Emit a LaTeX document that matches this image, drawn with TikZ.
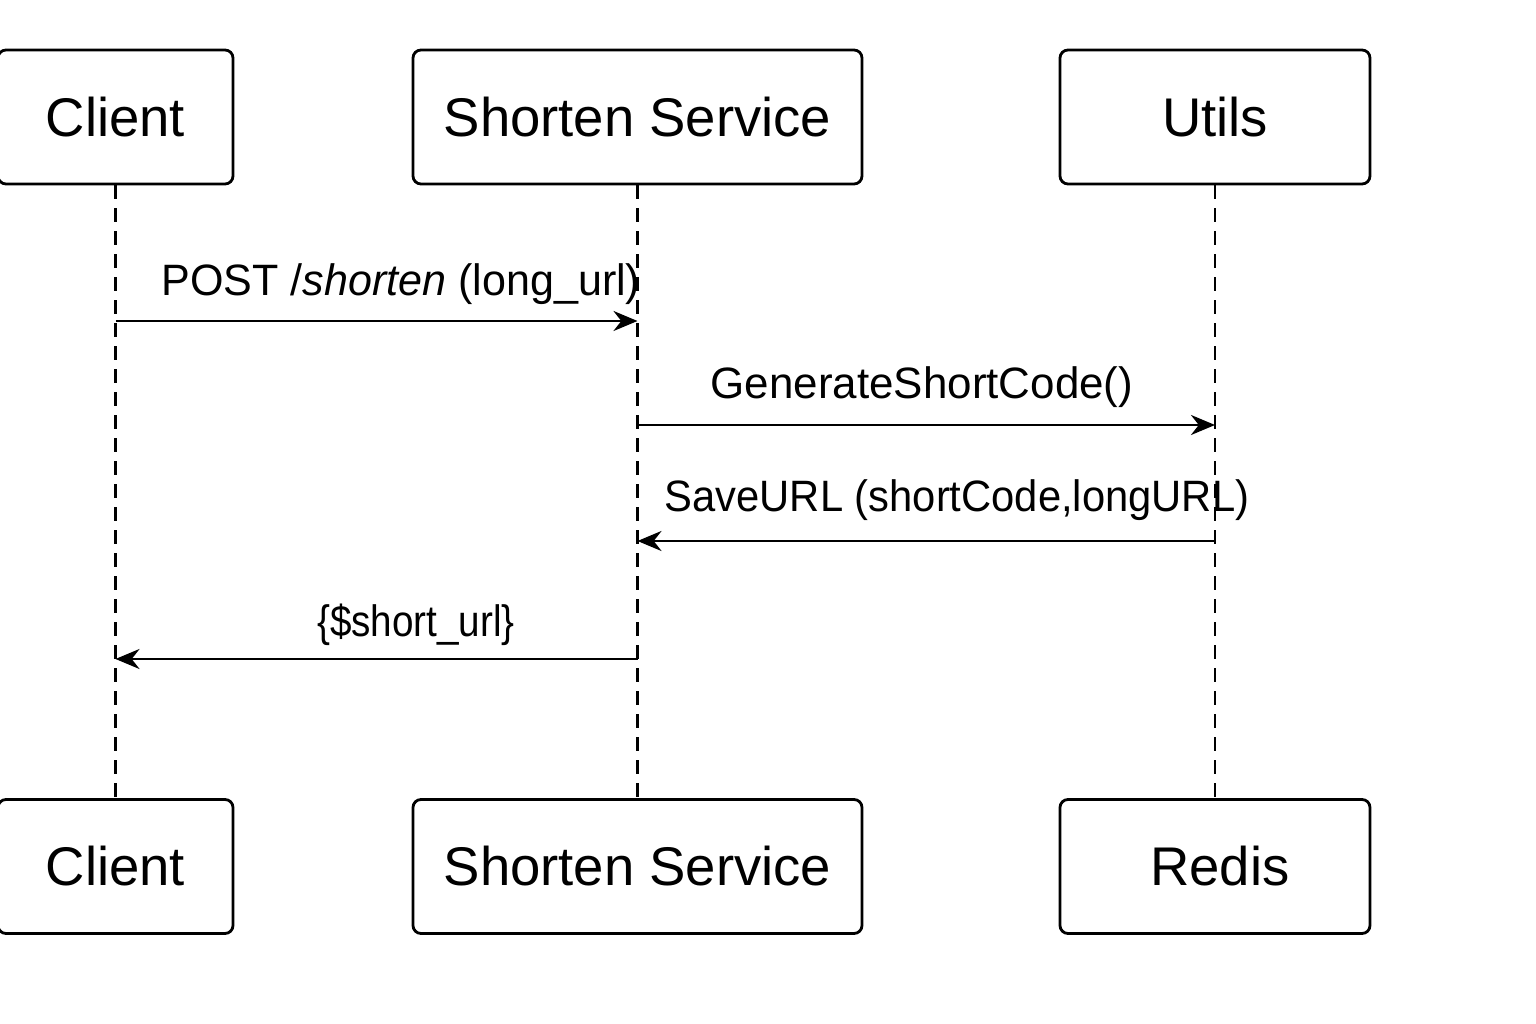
\documentclass[tikz,border=0pt]{standalone}
\usepackage{fontspec}
\setmainfont{Liberation Sans}
\usetikzlibrary{arrows.meta}

\begin{document}
\begin{tikzpicture}[
    x=0.1mm, y=-0.1mm,
    actor/.style={draw, rounded corners=0.8mm, line width=0.28mm, minimum height=13.4mm, inner sep=0pt, font=\fontsize{15.5}{18}\selectfont},
    lifeline/.style={dash pattern=on 1.4mm off 0.9mm, line width=0.25mm},
    msg/.style={-{Stealth[length=2.4mm, width=2mm]}, line width=0.28mm},
    msglabel/.style={anchor=base, inner sep=0pt, font=\fontsize{12.5}{15}\selectfont},
]
    \useasboundingbox (0,0) rectangle (1536,1024);

    % participants
    \node[actor, minimum width=23.5mm] (client) at (115.5,117) {Client};
    \node[actor, minimum width=44.9mm] (service) at (637.5,117) {Shorten Service};
    \node[actor, minimum width=31mm] (utils) at (1215,117) {Utils};
    \node[actor, minimum width=23.5mm] (client2) at (115.5,866.5) {Client};
    \node[actor, minimum width=44.9mm] (service2) at (637.5,866.5) {Shorten Service};
    \node[actor, minimum width=31mm] (redis) at (1215,866.5) {\hspace{1mm}Redis};

    % lifelines
    \draw[lifeline] (client.south) -- (client2.north);
    \draw[lifeline] (service.south) -- (service2.north);
    \draw[lifeline] (utils.south) -- (redis.north);

    \coordinate (c1) at (client.south |- 0,321);
    \coordinate (s1) at (service.south |- 0,321);
    \coordinate (s2) at (service.south |- 0,425);
    \coordinate (u2) at (utils.south |- 0,425);
    \coordinate (u3) at (utils.south |- 0,541);
    \coordinate (s3) at (service.south |- 0,541);
    \coordinate (s4) at (service.south |- 0,659);
    \coordinate (c4) at (client.south |- 0,659);

    % messages
    \draw[msg] (c1) -- (s1);
    \node[msglabel, transform shape, xscale=0.98] (post) at (401,296) {POST /\textit{shorten} (long\_url)};
    \draw[msg] (s2) -- (u2);
    \node[msglabel] (gen) at (922,399) {GenerateShortCode()};
    \draw[msg] (u3) -- (s3);
    \node[msglabel, transform shape, xscale=0.95] (save) at (957,512) {SaveURL (shortCode,longURL)};
    \draw[msg] (s4) -- (c4);
    \node[msglabel, transform shape, xscale=0.88] (reply) at (416,637) {\{\$short\_url\}};
\end{tikzpicture}
\end{document}
